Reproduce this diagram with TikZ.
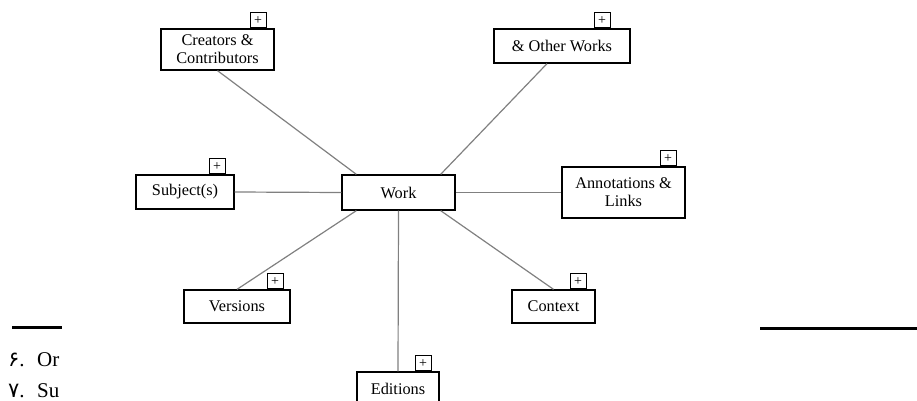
\documentclass[tikz,border=0pt]{standalone}
\usepackage{fontspec}
\setmainfont{Liberation Serif}
\newfontfamily\persfont{DejaVu Sans}
\usetikzlibrary{positioning,calc}
\begin{document}
\begin{tikzpicture}[x=1pt,y=1pt,
entity/.style={draw, line width=1.3pt, rectangle, align=center, inner sep=0pt, font=\fontsize{16.3}{18}\selectfont},
plusbox/.style={draw, line width=1.1pt, anchor=south east, minimum width=16pt, minimum height=15pt, inner sep=0pt, font=\fontsize{14}{14}\selectfont},
link/.style={draw=gray, line width=1.2pt},
rulebar/.style={draw=black, line width=3pt}]
\useasboundingbox (0,0) rectangle (917,-401);
\clip (0,0) rectangle (917,-401);
\node[entity, minimum width=113pt, minimum height=35pt] (work) at (398.5,-192.5) {Work};
\node[entity, minimum width=113pt, minimum height=41pt] (creators) at (217.5,-49.5) {Creators \&\\Contributors};
\node[entity, minimum width=136pt, minimum height=34pt] (other) at (562,-46) {\& Other Works};
\node[entity, minimum width=98pt, minimum height=34pt] (subject) at (185,-192) {Subject(s)};
\node[entity, minimum width=123pt, minimum height=51pt] (annot) at (623.5,-192.5) {Annotations \&\\Links};
\node[entity, minimum width=106pt, minimum height=33pt] (versions) at (237,-306.5) {Versions};
\node[entity, minimum width=83pt, minimum height=33pt] (context) at (553.5,-306.5) {Context};
\node[entity, minimum width=82pt, minimum height=34pt] (editions) at (398,-389) {Editions};
\node[plusbox] (creators-p) at ([xshift=-8pt]creators.north east) {+};
\node[plusbox] (other-p) at ([xshift=-20pt]other.north east) {+};
\node[plusbox] (subject-p) at ([xshift=-9pt]subject.north east) {+};
\node[plusbox] (annot-p) at ([xshift=-9pt]annot.north east) {+};
\node[plusbox] (versions-p) at ([xshift=-7pt]versions.north east) {+};
\node[plusbox] (context-p) at ([xshift=-9pt]context.north east) {+};
\node[plusbox] (editions-p) at ([xshift=-8pt]editions.north east) {+};
\draw[link] (creators.south) -- ([xshift=15pt]work.north west);
\draw[link] ([xshift=-15pt]other.south) -- ([xshift=-15pt]work.north east);
\draw[link] (subject.east) -- (work.west);
\draw[link] (work.east) -- (annot.west);
\draw[link] (versions.north) -- ([xshift=15pt]work.south west);
\draw[link] (context.north) -- ([xshift=-15pt]work.south east);
\draw[link] (work.south) -- (editions.north);
\coordinate (ruleL1) at (12,-327);
\coordinate (ruleL2) at (62,-327);
\coordinate (ruleR1) at (760,-328);
\coordinate (ruleR2) at (917,-328);
\draw[rulebar] (ruleL1) -- (ruleL2);
\draw[rulebar] (ruleR1) -- (ruleR2);
\begin{scope}
\clip (0,-335) rectangle (62,-401);
\node[anchor=base west, inner sep=0pt, font=\fontsize{21}{21}\selectfont] (note6) at (8,-366) {\makebox[29pt][l]{{\persfont ۶}.}Or};
\node[anchor=base west, inner sep=0pt, font=\fontsize{21}{21}\selectfont] (note7) at (8,-397) {\makebox[29pt][l]{{\persfont ۷}.}Su};
\end{scope}
\end{tikzpicture}
\end{document}
